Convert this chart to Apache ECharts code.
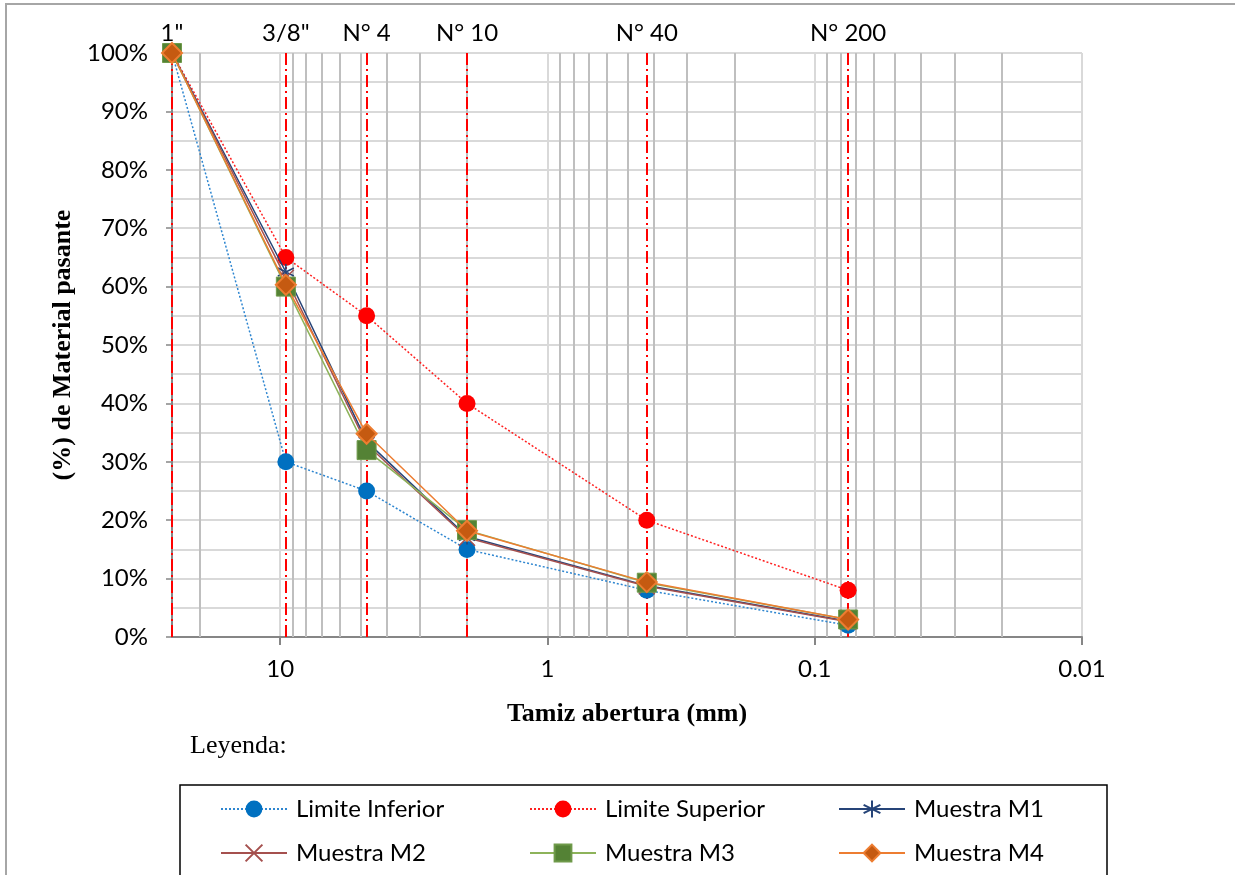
<!DOCTYPE html>
<html>
<head>
<meta charset="utf-8">
<script src="https://cdn.jsdelivr.net/npm/echarts@6/dist/echarts.min.js"></script>
<style>
html,body{margin:0;padding:0;background:#fff;}
#chart{width:1235px;height:875px;}
</style>
</head>
<body>
<div id="chart"></div>
<script>
// sieve openings (mm) and names
var sieveSizes=[25.4,9.525,4.75,2.0,0.425,0.075];
var sieveNames=['1"','3/8"','N° 4','N° 10','N° 40','N° 200'];
// minor log grid lines
var minorLines=[20,9,8,7,6,5,4,3,2,0.9,0.8,0.7,0.6,0.5,0.4,0.3,0.2,0.09,0.08,0.07,0.06,0.05,0.04,0.03,0.02];
// % passing
var limInf=[100,30,25,15,8,2];
var limSup=[100,65,55,40,20,8];
var m1=[100,62.5,33.5,17.2,8.8,2.7];
var m2=[100,61.5,33,17,8.7,2.6];
var m3=[100,60,32,18.3,9.3,3];
var m4=[100,60.3,34.8,18.2,9.4,3];

function pairs(vals){
    return sieveSizes.map(function(s,i){return [s,vals[i]];});
}
var txt='#000';
var font='Lato';
var chart=echarts.init(document.getElementById('chart'));
var option={
    animation:false,
    backgroundColor:'#fff',
    grid:{left:172,right:153,top:53,bottom:238},
    xAxis:{
        type:'log',logBase:10,inverse:true,min:0.01,max:25.4,
        name:'Tamiz abertura (mm)',nameLocation:'middle',nameGap:64,
        nameTextStyle:{fontFamily:'Liberation Serif',fontWeight:'bold',fontSize:26,color:txt},
        axisLine:{lineStyle:{color:'#868686',width:2}},
        axisTick:{show:true,length:8,lineStyle:{color:'#868686',width:2}},
        axisLabel:{color:txt,fontFamily:font,fontSize:24,margin:20,showMaxLabel:false,
            formatter:function(v){
                var l=Math.log10(v);
                if(Math.abs(l-Math.round(l))>1e-6)return '';
                return String(parseFloat(v.toPrecision(6)));
            }},
        splitLine:{show:true,lineStyle:{color:'#d9d9d9',width:2}}
    },
    yAxis:{
        type:'value',min:0,max:100,interval:10,
        name:'(%) de Material pasante',nameLocation:'middle',nameGap:94,
        nameTextStyle:{fontFamily:'Liberation Serif',fontWeight:'bold',fontSize:26,color:txt},
        axisLine:{show:true,lineStyle:{color:'#868686',width:2}},
        axisTick:{show:true,length:6,lineStyle:{color:'#868686',width:1.5}},
        axisLabel:{color:txt,fontFamily:font,fontSize:24,margin:24,formatter:'{value}%'},
        splitLine:{show:true,lineStyle:{color:'#d9d9d9',width:2}},
        minorTick:{show:false,splitNumber:2},
        minorSplitLine:{show:true,lineStyle:{color:'#d9d9d9',width:2}}
    },
    legend:[
        {data:['Limite Inferior','Muestra M2']},
        {data:['Limite Superior','Muestra M3']},
        {data:['Muestra M1','Muestra M4']}
    ].map(function(l,i){
        return {
            data:l.data,orient:'vertical',left:[220,529,838][i],top:797,
            itemWidth:66,itemHeight:21,itemGap:20,padding:0,
            textStyle:{color:txt,fontFamily:font,fontSize:24,padding:[0,0,0,4]}
        };
    }),
    graphic:[
        {type:'line',shape:{x1:6,y1:4,x2:6,y2:875},style:{stroke:'#a6a6a6',lineWidth:2}},
        {type:'line',shape:{x1:5,y1:4,x2:1235,y2:4},style:{stroke:'#a6a6a6',lineWidth:2}},
        {type:'rect',shape:{x:180,y:785,width:927,height:110},style:{fill:'none',stroke:'#000',lineWidth:1.5}},
        {type:'text',left:190,top:733,style:{text:'Leyenda:',fontFamily:'Liberation Serif',fontSize:26,fill:txt}}
    ],
    series:[
        {
            name:'Limite Inferior',type:'line',z:3,data:pairs(limInf),
            symbol:'circle',symbolSize:17,
            itemStyle:{color:'#0070C0'},
            lineStyle:{color:'#2E86D0',width:1.5,type:[2,2]},
            markLine:{silent:true,precision:6,symbol:['none','none'],label:{show:false},z:1,
                lineStyle:{color:'#bfbfbf',width:2,type:'solid'},
                data:minorLines.map(function(v){return {xAxis:v};})}
        },
        {
            name:'Limite Superior',type:'line',z:3,data:pairs(limSup),
            symbol:'circle',symbolSize:17,
            itemStyle:{color:'#ff0000'},
            lineStyle:{color:'#ff2020',width:1.5,type:[2,2]},
            markLine:{silent:true,precision:6,symbol:['none','none'],z:2,
                lineStyle:{color:'#ff0000',width:2,type:[12,4,2,4]},
                label:{show:true,position:'end',distance:8,color:txt,fontFamily:font,fontSize:24,
                    formatter:function(p){return p.name;}},
                data:sieveSizes.map(function(v,i){return {xAxis:v,name:sieveNames[i]};})}
        },
        {
            name:'Muestra M1',type:'line',z:4,data:pairs(m1),
            symbol:'path://M5,0L5,10M0.7,2.5L9.3,7.5M9.3,2.5L0.7,7.5',symbolSize:16,
            itemStyle:{color:'none',borderColor:'#264478',borderWidth:1.5},
            lineStyle:{color:'#264478',width:1.5}
        },
        {
            name:'Muestra M2',type:'line',z:4,data:pairs(m2),
            symbol:'path://M0,0L10,10M10,0L0,10',symbolSize:16,
            itemStyle:{color:'none',borderColor:'#A5504E',borderWidth:1.5},
            lineStyle:{color:'#A5504E',width:1.5}
        },
        {
            name:'Muestra M3',type:'line',z:5,data:pairs(m3),
            symbol:'rect',symbolSize:19,
            itemStyle:{color:'#548235',borderColor:'#6F9A4A',borderWidth:1},
            lineStyle:{color:'#8DB35A',width:1.5}
        },
        {
            name:'Muestra M4',type:'line',z:6,data:pairs(m4),
            symbol:'diamond',symbolSize:20,
            itemStyle:{color:'#C55A11',borderColor:'#ED7D31',borderWidth:2},
            lineStyle:{color:'#ED7D31',width:1.5}
        }
    ]
};
chart.setOption(option);
</script>
</body>
</html>
